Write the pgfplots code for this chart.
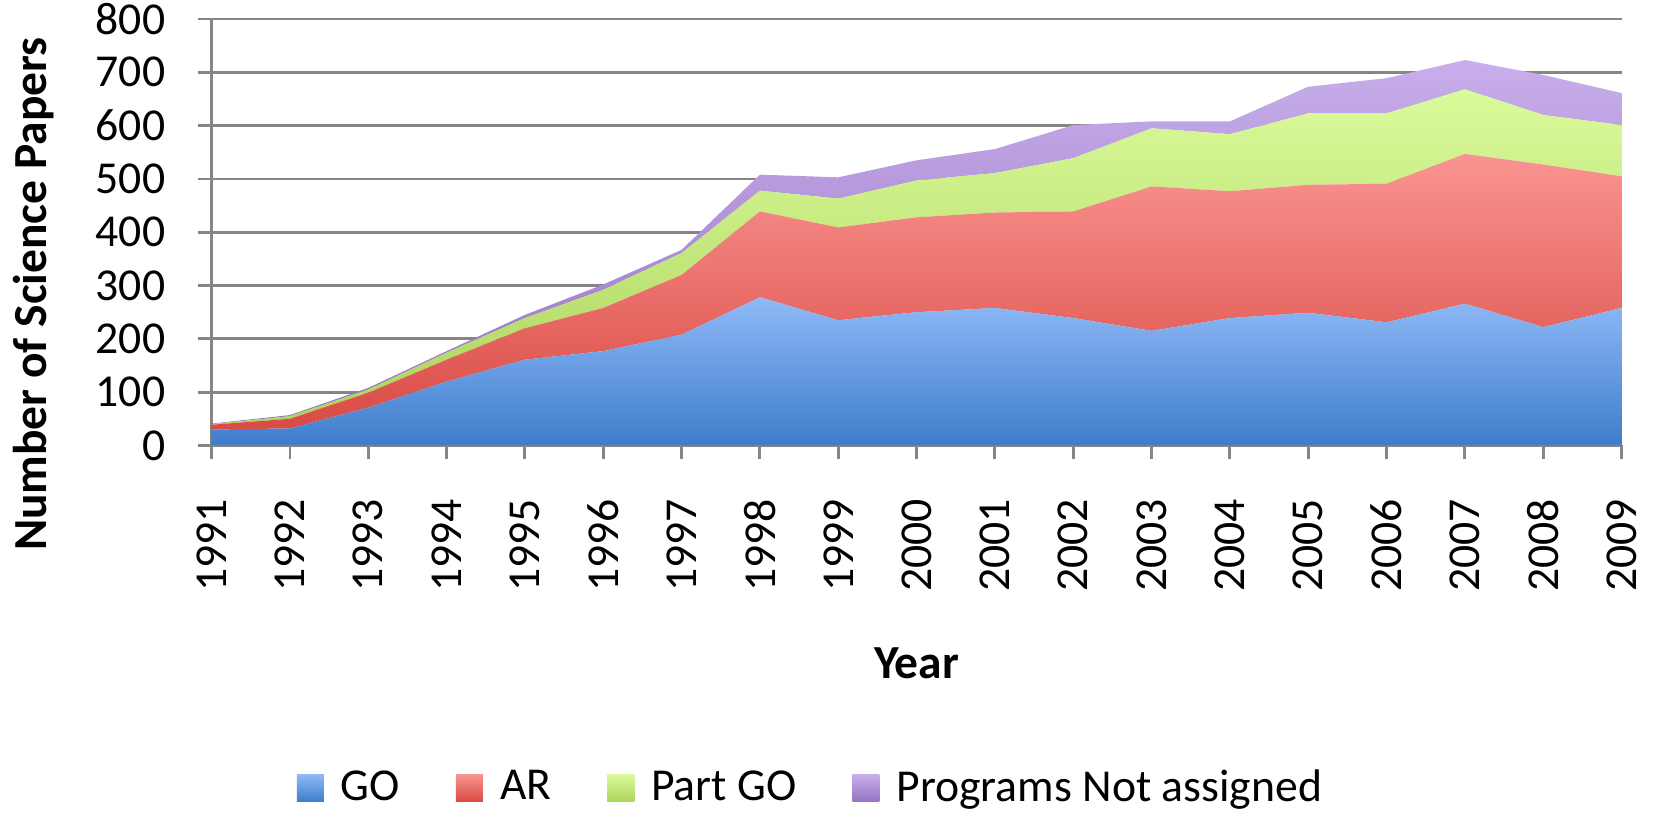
\documentclass[border=0pt]{standalone}
\usepackage{fontspec}
\setmainfont{Carlito}
\usepackage{pgfplots}
\usepackage{pgfplotstable}
\pgfplotsset{compat=1.18}

\pgfplotstableread{
year go ar part na
1991 30 9 1 1
1992 32 18 5 2
1993 71 28 6 3
1994 120 41 13 3
1995 161 59 19 6
1996 177 81 34 10
1997 208 112 41 6
1998 278 161 39 30
1999 235 174 54 40
2000 250 178 69 38
2001 258 179 74 45
2002 239 200 100 62
2003 215 271 109 13
2004 239 238 107 24
2005 249 240 134 50
2006 231 260 132 66
2007 266 281 121 55
2008 222 305 93 75
2009 258 247 96 60
}\datatable

\definecolor{gridgray}{RGB}{134,134,134}
\definecolor{blueT}{RGB}{143,185,247}
\definecolor{blueB}{RGB}{62,125,203}
\definecolor{redT}{RGB}{249,148,144}
\definecolor{redB}{RGB}{218,74,68}
\definecolor{greenT}{RGB}{218,250,155}
\definecolor{greenB}{RGB}{172,212,92}
\definecolor{purpT}{RGB}{200,174,234}
\definecolor{purpB}{RGB}{150,115,196}

\begin{document}
\begin{tikzpicture}[font=\fontsize{13pt}{15.6pt}\selectfont]
\path[use as bounding box] (0,0) rectangle (165.9mm,81.7mm);
\begin{axis}[
  at={(21.16mm,37.15mm)}, anchor=south west,
  scale only axis, width=141.0mm, height=42.65mm,
  xmin=1991, xmax=2009, ymin=0, ymax=800,
  enlargelimits=false,
  stack plots=y,
  xtick={1991,...,2009},
  ytick={0,100,...,800},
  /pgf/number format/1000 sep={},
  /pgf/number format/assume math mode=true,
  axis x line*=bottom, axis y line*=left,
  axis line style={gridgray, line width=0.8pt, -},
  tick style={gridgray, line width=0.8pt},
  major tick length=1.4mm,
  tick align=outside,
  ymajorgrids,
  major grid style={gridgray, line width=0.8pt},
  xticklabel style={rotate=90, anchor=east},
  xticklabel shift=2.7mm,
  yticklabel shift=2mm,
  xlabel={Year},
  xlabel style={font=\fontsize{13.5pt}{16pt}\selectfont\bfseries, at={(axis description cs:0.5,-0.51)}, anchor=center},
  ylabel={Number of Science Papers},
  ylabel style={font=\fontsize{13.5pt}{16pt}\selectfont\bfseries, at={(axis description cs:-0.126,0.355)}, anchor=center},
  legend columns=4,
  legend style={draw=none, fill=none, at={(axis description cs:0.4265,-0.803)}, anchor=center,
    /tikz/every even column/.append style={column sep=4.9mm}},
  legend image code/.code={\path[#1] (0cm,-0.135cm) rectangle (0.27cm,0.135cm);
    \path (0.27cm,0cm) -- (0.37cm,0cm);},
]
\addplot[draw=none, top color=blueT, bottom color=blueB] table[x=year, y=go] {\datatable} \closedcycle;
\addlegendentry{GO}
\addplot[draw=none, top color=redT, bottom color=redB] table[x=year, y=ar] {\datatable} \closedcycle;
\addlegendentry{AR}
\addplot[draw=none, top color=greenT, bottom color=greenB] table[x=year, y=part] {\datatable} \closedcycle;
\addlegendentry{Part GO}
\addplot[draw=none, top color=purpT, bottom color=purpB] table[x=year, y=na] {\datatable} \closedcycle;
\addlegendentry{Programs Not assigned}
\end{axis}
\end{tikzpicture}
\end{document}
